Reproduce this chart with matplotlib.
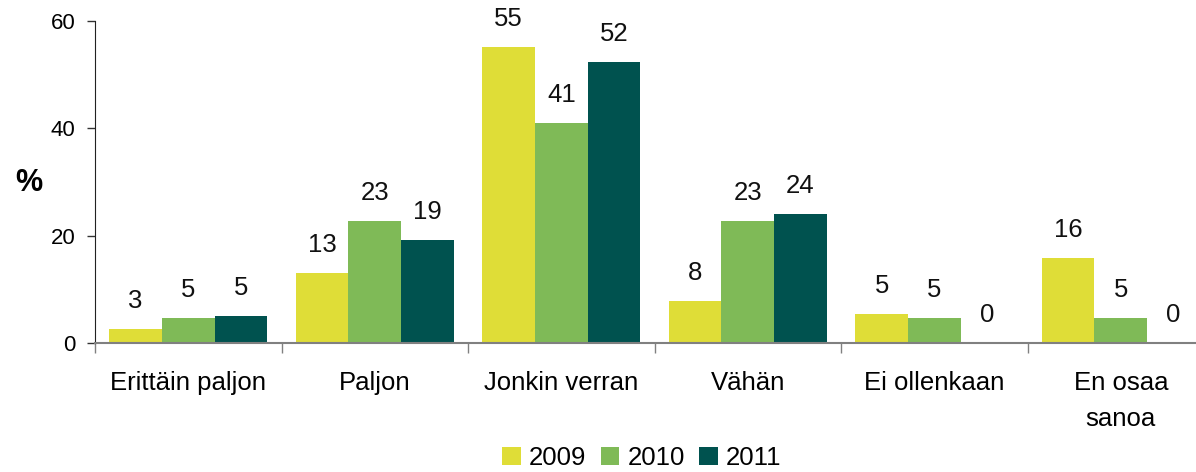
import matplotlib
matplotlib.use("Agg")
import matplotlib.pyplot as plt
import numpy as np

categories = ["Erittäin paljon", "Paljon", "Jonkin verran", "Vähän", "Ei ollenkaan", "En osaa\nsanoa"]
years = ["2009", "2010", "2011"]
v2009 = [2.6, 13.0, 55.2, 7.8, 5.4, 15.8]
v2010 = [4.7, 22.7, 41.0, 22.7, 4.7, 4.7]
v2011 = [5.0, 19.2, 52.4, 24.0, 0.0, 0.0]
yticks = [0, 20, 40, 60]
colors = ["#DFDD37", "#7FBA57", "#00524F"]

plt.rcParams['font.family'] = ['Liberation Sans', 'DejaVu Sans']

fig = plt.figure(figsize=(11.96, 4.72), dpi=100)
ax = fig.add_axes([95/1196, (472-343)/472, (1214-95)/1196, (343-21)/472])

x = np.arange(len(categories))
w = 0.282
for i, (vals, c, yr) in enumerate(zip([v2009, v2010, v2011], colors, years)):
    bars = ax.bar(x + (i-1)*w, vals, width=w, color=c, label=yr, zorder=2)
    ax.bar_label(bars, fmt='%.0f', padding=11.5, fontsize=18.5, color='#111111')

ax.set_xlim(-0.5, len(categories)-0.5)
ax.set_ylim(0, 60)
ax.set_yticks(yticks)
ax.tick_params(axis='y', direction='out', length=6, width=1, color='#333333', labelsize=16, pad=8)
ax.set_xticks(np.arange(len(categories)+1)-0.5)
ax.set_xticklabels([])
ax.tick_params(axis='x', which='major', direction='out', length=7, width=1, color='#808080')
ax.set_xticks(x, minor=True)
ax.set_xticklabels(categories, minor=True, fontsize=18.5, linespacing=1.65, va='top')
ax.tick_params(axis='x', which='minor', length=0, pad=20)

for s in ['top', 'right']:
    ax.spines[s].set_visible(False)
ax.spines['left'].set_color('#222222')
ax.spines['bottom'].set_color('#808080')
ax.spines['bottom'].set_linewidth(1.5)
ax.spines['bottom'].set_zorder(3)

fig.text(29/1196, 1-183/472, "%", fontsize=22, fontweight='bold', ha='center', va='center')

handles, labels = ax.get_legend_handles_labels()
fig.legend(handles, labels, loc='center', bbox_to_anchor=(642/1196, 1-458/472), ncol=3,
           frameon=False, fontsize=18.5, handlelength=0.72, handleheight=0.72,
           handletextpad=0.32, columnspacing=0.56, borderaxespad=0, borderpad=0)

fig.savefig("out.png", dpi=100)
